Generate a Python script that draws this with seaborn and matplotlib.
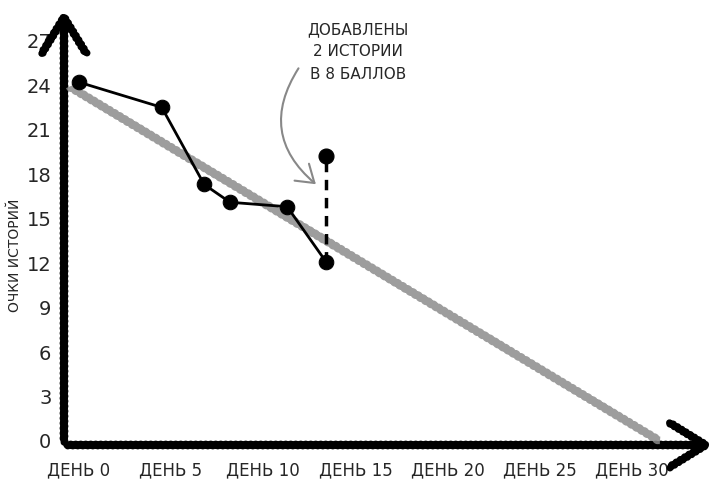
import matplotlib
matplotlib.use("Agg")
import matplotlib.pyplot as plt
import seaborn as sns
import pandas as pd
from matplotlib.patches import FancyArrowPatch

# ---- data ----
days = [0, 4.5, 6.8, 8.2, 11.3, 13.4]
points = [24.2, 22.5, 17.3, 16.1, 15.8, 12.1]
added_day = [13.4, 13.4]
added_points = [12.1, 19.2]
ideal_days = [-0.5, 31.5]
ideal_points = [23.9, 0.0]
x_ticks = [0, 5, 10, 15, 20, 25, 30]
x_tick_labels = ["ДЕНЬ 0", "ДЕНЬ 5", "ДЕНЬ 10", "ДЕНЬ 15", "ДЕНЬ 20", "ДЕНЬ 25", "ДЕНЬ 30"]
y_ticks = [0, 3, 6, 9, 12, 15, 18, 21, 24, 27]
y_label = "ОЧКИ ИСТОРИЙ"
note = "ДОБАВЛЕНЫ\n2 ИСТОРИИ\nВ 8 БАЛЛОВ"

sns.set_theme(style="white")
plt.rcParams["font.family"] = ["DejaVu Sans"]

fig = plt.figure(figsize=(7.2, 4.91), dpi=100)
ax = fig.add_axes([64/720, 1-445/491, (715-64)/720, (445-8)/491])
ax.set_xlim(-0.8, 34.5)
ax.set_ylim(-0.27, 29.2)

df_ideal = pd.DataFrame({"day": ideal_days, "pts": ideal_points})
df = pd.DataFrame({"day": days, "pts": points})
df_add = pd.DataFrame({"day": added_day, "pts": added_points})

with plt.rc_context({"path.sketch": (0.8, 6, 1)}):
    sns.lineplot(data=df_ideal, x="day", y="pts", ax=ax, color="#8c8c8c",
                 linewidth=5.5, alpha=0.85, solid_capstyle="butt",
                 estimator=None, sort=False)
sns.lineplot(data=df_add, x="day", y="pts", ax=ax, color="black", linewidth=2.5,
             linestyle=(0, (3, 2.2)), estimator=None, sort=False)
sns.lineplot(data=df, x="day", y="pts", ax=ax, color="black", linewidth=2,
             marker="o", markersize=10.5, markeredgecolor="black",
             estimator=None, sort=False)
sns.scatterplot(data=df_add.iloc[[1]], x="day", y="pts", ax=ax, color="black",
                s=115, edgecolor="black", zorder=5)

for s in ax.spines.values():
    s.set_visible(False)

# hand-drawn axes with arrows
with plt.rc_context({"path.sketch": (1.0, 5, 1)}):
    ax.add_patch(FancyArrowPatch((0, 0), (1.0, 0), transform=ax.transAxes,
                                 arrowstyle="->,head_length=1.3,head_width=0.8",
                                 mutation_scale=20, lw=5, color="black", clip_on=False))
    ax.add_patch(FancyArrowPatch((0, 0), (0, 1.0), transform=ax.transAxes,
                                 arrowstyle="->,head_length=1.3,head_width=0.8",
                                 mutation_scale=20, lw=5, color="black", clip_on=False))

ax.set_xticks(x_ticks)
ax.set_xticklabels(x_tick_labels, fontsize=12)
ax.set_yticks(y_ticks)
ax.set_yticklabels([str(v) for v in y_ticks], fontsize=14)
ax.tick_params(axis="x", length=0, pad=12)
ax.tick_params(axis="y", length=0, pad=9)
ax.set_xlabel("")
ax.set_ylabel("")
fig.text(15/720, 1-255/491, y_label, rotation=90, ha="center", va="center", fontsize=10)

fig.text(358/720, 1-52/491, note, ha="center", va="center", fontsize=11,
         linespacing=1.6)
arr = FancyArrowPatch((300/720, 1-66/491), (318/720, 1-186/491), transform=fig.transFigure,
                      connectionstyle="arc3,rad=0.45",
                      arrowstyle="->,head_length=0.6,head_width=0.4",
                      mutation_scale=20, lw=1.5, color="#888888")
fig.patches.append(arr)

ax.grid(False)
fig.savefig("out.png", dpi=100)
